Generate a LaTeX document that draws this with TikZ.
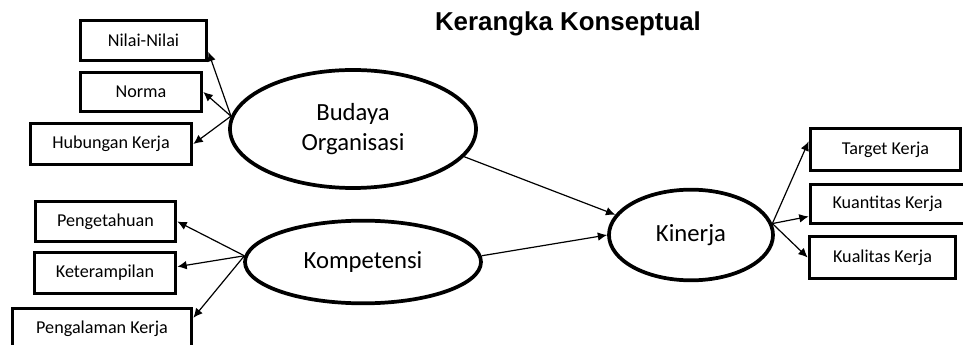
\documentclass[tikz,border=0pt]{standalone}
\usepackage{fontspec}
\setmainfont{Carlito}
\newfontfamily\titlefont{Liberation Sans}
\usetikzlibrary{shapes.geometric, arrows.meta}
\tikzset{
    indicator/.style={rectangle, draw=black, line width=2.8pt, minimum height=30pt, inner sep=1pt, text centered, font=\fontsize{13.6}{15}\selectfont},
    construct/.style={ellipse, draw=black, line width=2.8pt, inner sep=0pt, align=center, font=\fontsize{18.5}{22.5}\selectfont},
    conn/.style={draw=black, line width=0.9pt, -{Latex[length=7pt, width=6.5pt]}}
}
\begin{document}
\begin{tikzpicture}[x=0.75pt, y=-0.75pt]
    \useasboundingbox (0,0) rectangle (963,345);

    % Title
    \node[font=\titlefont\bfseries\fontsize{19.4}{22}\selectfont] (title) at (568,24) {Kerangka Konseptual};

    % Latent constructs
    \node[construct, minimum width=184.5pt, minimum height=88.5pt] (budaya) at (353,129) {Budaya\\Organisasi};
    \node[construct, minimum width=177pt, minimum height=62pt] (kompetensi) at (363,262) {Kompetensi};
    \node[construct, minimum width=123pt, minimum height=68pt] (kinerja) at (691,235) {Kinerja};

    % Indicators of Budaya Organisasi
    \node[indicator, minimum width=94.5pt] (nilai) at (143.5,40.5) {Nilai-Nilai};
    \node[indicator, minimum width=90.75pt, minimum height=29.25pt] (norma) at (141,92) {Norma};
    \node[indicator, minimum width=120.75pt, minimum height=30.75pt] (hubungan) at (111,144) {Hubungan Kerja};

    % Indicators of Kompetensi
    \node[indicator, minimum width=105pt] (pengetahuan) at (105.5,221.5) {Pengetahuan};
    \node[indicator, minimum width=105.75pt, minimum height=30.75pt] (keterampilan) at (105,273) {Keterampilan};
    \node[indicator, minimum width=134.25pt, minimum height=30.75pt] (pengalaman) at (102,329) {Pengalaman Kerja};

    % Indicators of Kinerja
    \node[indicator, minimum width=112.5pt, minimum height=31.5pt] (target) at (885.5,149.5) {Target Kerja};
    \node[indicator, minimum width=115.5pt, minimum height=29.25pt] (kuantitas) at (887.5,204) {Kuantitas Kerja};
    \node[indicator, minimum width=109.5pt, minimum height=31.5pt] (kualitas) at (882.5,257.5) {Kualitas Kerja};

    % Connections
    \path (budaya.174) edge[conn] (nilai.-10);
    \path (budaya.174) edge[conn] (norma.east);
    \path (budaya.174) edge[conn] (hubungan.east);

    \path (kompetensi.177) edge[conn] (pengetahuan.east);
    \path (kompetensi.177) edge[conn] (keterampilan.5);
    \path (kompetensi.177) edge[conn] (pengalaman.7);

    \path (budaya.-14) edge[conn] (kinerja.165);
    \path (kompetensi.3) edge[conn] (kinerja.180);

    \path (kinerja.8) edge[conn] (target.174);
    \path (kinerja.8) edge[conn] (kuantitas.189);
    \path (kinerja.8) edge[conn] (kualitas.west);
\end{tikzpicture}
\end{document}
